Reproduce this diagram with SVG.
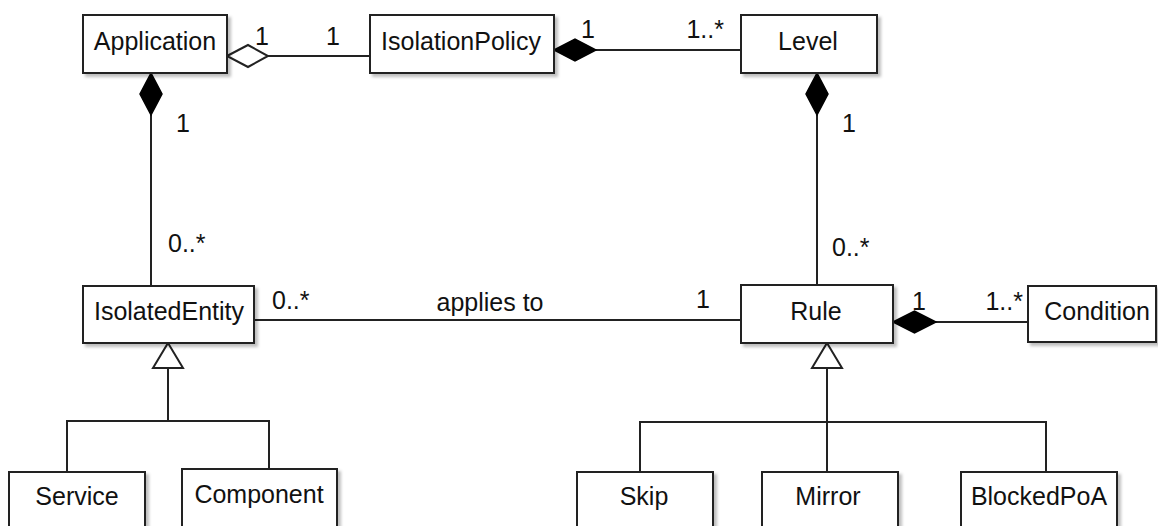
<svg xmlns="http://www.w3.org/2000/svg" width="1158" height="526" viewBox="0 0 1158 526">
  <defs>
    <filter id="shadow" x="-10%" y="-10%" width="130%" height="140%">
      <feDropShadow dx="3" dy="3" stdDeviation="1.5" flood-color="#000" flood-opacity="0.25"/>
    </filter>
  </defs>
  <style>
    .box { fill: #fff; stroke: #222; stroke-width: 2; filter: url(#shadow); }
    .lbl { font-family: "Liberation Sans", Arial, sans-serif; font-size: 25px; fill: #111; }
    .mid { text-anchor: middle; }
    .end { text-anchor: end; }
    .line { fill: none; stroke: #222; stroke-width: 2; }
    .filled { fill: #000; stroke: #000; stroke-width: 1.5; stroke-linejoin: miter; }
    .hollow { fill: #fff; stroke: #222; stroke-width: 2; stroke-linejoin: miter; }
  </style>
  <rect width="1158" height="526" fill="#fff"/>

  <g id="connectors">
    <!-- Application <>- IsolationPolicy (aggregation) -->
    <line class="line" x1="268" y1="56" x2="370" y2="56"/>
    <polygon class="hollow" points="227,56 248,45 268,56 248,67"/>
    <text class="lbl mid" x="262" y="45">1</text>
    <text class="lbl mid" x="333" y="45">1</text>

    <!-- IsolationPolicy <*>- Level -->
    <line class="line" x1="596" y1="50" x2="741" y2="50"/>
    <polygon class="filled" points="554,50 575,39 596,50 575,61"/>
    <text class="lbl mid" x="588" y="38">1</text>
    <text class="lbl end" x="724" y="38">1..*</text>

    <!-- Application <*>- IsolatedEntity -->
    <line class="line" x1="151" y1="115" x2="151" y2="286"/>
    <polygon class="filled" points="151,73 162,94 151,115 140,94"/>
    <text class="lbl mid" x="183" y="132">1</text>
    <text class="lbl" x="168" y="252">0..*</text>

    <!-- Level <*>- Rule -->
    <line class="line" x1="817" y1="115" x2="817" y2="285"/>
    <polygon class="filled" points="817,73 828,94 817,115 806,94"/>
    <text class="lbl mid" x="849" y="132">1</text>
    <text class="lbl" x="832" y="256">0..*</text>

    <!-- IsolatedEntity - Rule (applies to) -->
    <line class="line" x1="254" y1="320" x2="741" y2="320"/>
    <text class="lbl" x="272" y="309">0..*</text>
    <text class="lbl mid" x="490" y="311">applies to</text>
    <text class="lbl mid" x="703" y="308">1</text>

    <!-- Rule <*>- Condition -->
    <line class="line" x1="936" y1="322" x2="1028" y2="322"/>
    <polygon class="filled" points="893,322 914.5,311 936,322 914.5,333"/>
    <text class="lbl mid" x="919" y="310">1</text>
    <text class="lbl end" x="1023" y="310">1..*</text>

    <!-- Generalization: Service, Component -> IsolatedEntity -->
    <polyline class="line" points="67,472 67,421 269,421 269,469"/>
    <line class="line" x1="168" y1="368" x2="168" y2="421"/>
    <polygon class="hollow" points="168,343 183,368 153,368"/>

    <!-- Generalization: Skip, Mirror, BlockedPoA -> Rule -->
    <polyline class="line" points="640,472 640,422 1046,422 1046,472"/>
    <line class="line" x1="827" y1="368" x2="827" y2="472"/>
    <polygon class="hollow" points="827,343 842,368 812,368"/>
  </g>

  <g id="Application">
    <rect class="box" x="83" y="15" width="144" height="58"/>
    <text class="lbl mid" x="155" y="50">Application</text>
  </g>
  <g id="IsolationPolicy">
    <rect class="box" x="370" y="15" width="184" height="58"/>
    <text class="lbl mid" x="461" y="50">IsolationPolicy</text>
  </g>
  <g id="Level">
    <rect class="box" x="741" y="15" width="136" height="58"/>
    <text class="lbl mid" x="808" y="50">Level</text>
  </g>
  <g id="IsolatedEntity">
    <rect class="box" x="83" y="286" width="171" height="57"/>
    <text class="lbl mid" x="169" y="320">IsolatedEntity</text>
  </g>
  <g id="Rule">
    <rect class="box" x="741" y="285" width="152" height="58"/>
    <text class="lbl mid" x="816" y="320">Rule</text>
  </g>
  <g id="Condition">
    <rect class="box" x="1028" y="286" width="128" height="56"/>
    <text class="lbl mid" x="1097" y="320">Condition</text>
  </g>
  <g id="Service">
    <rect class="box" x="9" y="472" width="136" height="60"/>
    <text class="lbl mid" x="77" y="505">Service</text>
  </g>
  <g id="Component">
    <rect class="box" x="182" y="469" width="155" height="63"/>
    <text class="lbl mid" x="259" y="503">Component</text>
  </g>
  <g id="Skip">
    <rect class="box" x="577" y="472" width="136" height="60"/>
    <text class="lbl mid" x="644" y="505">Skip</text>
  </g>
  <g id="Mirror">
    <rect class="box" x="762" y="472" width="136" height="60"/>
    <text class="lbl mid" x="828" y="505">Mirror</text>
  </g>
  <g id="BlockedPoA">
    <rect class="box" x="961" y="472" width="156" height="60"/>
    <text class="lbl mid" x="1039" y="505">BlockedPoA</text>
  </g>
</svg>
